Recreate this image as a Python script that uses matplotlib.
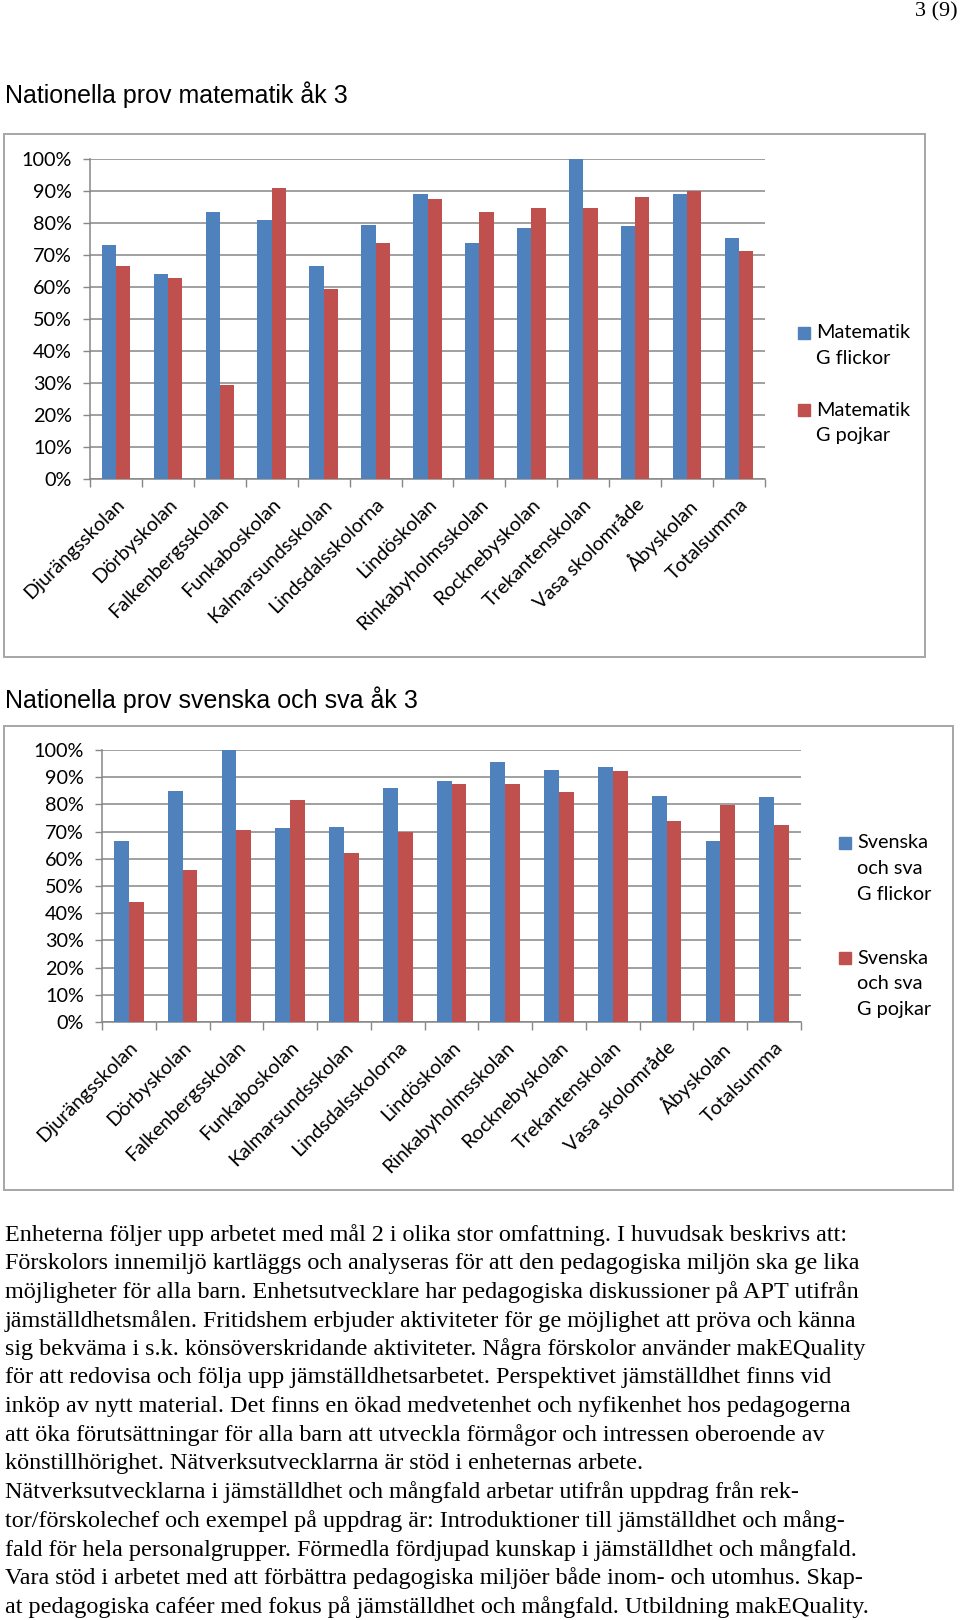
import matplotlib.pyplot as plt
from matplotlib.patches import Rectangle
import numpy as np

W, H = 960, 1620

schools = ["Djurängsskolan", "Dörbyskolan", "Falkenbergsskolan", "Funkaboskolan",
           "Kalmarsundsskolan", "Lindsdalsskolorna", "Lindöskolan", "Rinkabyholmsskolan",
           "Rocknebyskolan", "Trekantenskolan", "Vasa skolområde", "Åbyskolan", "Totalsumma"]

mat_flickor = [73.2, 64.2, 83.3, 80.9, 66.6, 79.5, 89.0, 73.8, 78.5, 100.0, 79.1, 89.0, 75.4]
mat_pojkar = [66.6, 62.9, 29.3, 90.8, 59.4, 73.6, 87.5, 83.3, 84.6, 84.6, 88.0, 90.1, 71.4]

sv_flickor = [66.5, 85.1, 100.0, 71.4, 71.7, 85.9, 88.7, 95.5, 92.7, 93.6, 83.1, 66.5, 82.6]
sv_pojkar = [44.3, 55.8, 70.5, 81.6, 62.1, 70.0, 87.4, 87.4, 84.6, 92.2, 73.8, 79.9, 72.6]

mat_labels = ["Matematik\nG flickor", "Matematik\nG pojkar"]
sv_labels = ["Svenska\noch sva\nG flickor", "Svenska\noch sva\nG pojkar"]

title1 = "Nationella prov matematik åk 3"
title2 = "Nationella prov svenska och sva åk 3"

body = [
    "Enheterna följer upp arbetet med mål 2 i olika stor omfattning. I huvudsak beskrivs att:",
    "Förskolors innemiljö kartläggs och analyseras för att den pedagogiska miljön ska ge lika",
    "möjligheter för alla barn. Enhetsutvecklare har pedagogiska diskussioner på APT utifrån",
    "jämställdhetsmålen. Fritidshem erbjuder aktiviteter för ge möjlighet att pröva och känna",
    "sig bekväma i s.k. könsöverskridande aktiviteter. Några förskolor använder makEQuality",
    "för att redovisa och följa upp jämställdhetsarbetet. Perspektivet jämställdhet finns vid",
    "inköp av nytt material. Det finns en ökad medvetenhet och nyfikenhet hos pedagogerna",
    "att öka förutsättningar för alla barn att utveckla förmågor och intressen oberoende av",
    "könstillhörighet. Nätverksutvecklarrna är stöd i enheternas arbete.",
    "Nätverksutvecklarna i jämställdhet och mångfald arbetar utifrån uppdrag från rek-",
    "tor/förskolechef och exempel på uppdrag är: Introduktioner till jämställdhet och mång-",
    "fald för hela personalgrupper. Förmedla fördjupad kunskap i jämställdhet och mångfald.",
    "Vara stöd i arbetet med att förbättra pedagogiska miljöer både inom- och utomhus. Skap-",
    "at pedagogiska caféer med fokus på jämställdhet och mångfald. Utbildning makEQuality.",
]

BLUE = "#4F81BD"
RED = "#C0504D"
GRID = "#868686"
TICKFONT = "Lato"
TICKSIZE = 14.3

fig = plt.figure(figsize=(W / 100, H / 100), dpi=100)


def fx(x):
    return x / W


def fy(y):
    return 1 - y / H


def frame(x0, y0, x1, y1):
    fig.patches.append(Rectangle((fx(x0), fy(y1)), fx(x1 - x0), (y1 - y0) / H,
                                 transform=fig.transFigure, fill=False,
                                 edgecolor="#A6A6A6", lw=1.4))


def bar_chart(box, flickor, pojkar):
    x0, y0, x1, y1 = box
    ax = fig.add_axes([fx(x0), fy(y1), fx(x1 - x0), (y1 - y0) / H])
    n = len(schools)
    x = np.arange(n)
    w = 0.275
    ax.bar(x - w / 2, np.array(flickor) / 100, w, color=BLUE, zorder=3)
    ax.bar(x + w / 2, np.array(pojkar) / 100, w, color=RED, zorder=3)
    ax.set_xlim(-0.5, n - 0.5)
    ax.set_ylim(0, 1)
    ax.set_yticks(np.arange(0, 1.01, 0.1))
    ax.set_yticklabels([f"{int(round(v * 100))}%" for v in np.arange(0, 1.01, 0.1)],
                       fontsize=TICKSIZE, family=TICKFONT)
    ax.set_xticks(np.arange(-0.5, n, 1.0))
    ax.set_xticklabels([])
    ax.set_xticks(x, minor=True)
    ax.set_xticklabels(schools, minor=True, rotation=45, ha="right", va="top",
                       rotation_mode="anchor", fontsize=TICKSIZE, family=TICKFONT)
    ax.tick_params(axis="x", which="major", length=6, color=GRID, width=1)
    ax.tick_params(axis="x", which="minor", length=0, pad=12)
    ax.tick_params(axis="y", length=5, color=GRID, width=1, pad=8)
    ax.yaxis.grid(True, color=GRID, lw=1.1, zorder=0)
    ax.set_axisbelow(True)
    for s in ["top", "right"]:
        ax.spines[s].set_visible(False)
    for s in ["left", "bottom"]:
        ax.spines[s].set_color(GRID)
        ax.spines[s].set_linewidth(1.1)
    return ax


def legend(x, ys, labels, colors):
    for y, lab, c in zip(ys, labels, colors):
        fig.patches.append(Rectangle((fx(x), fy(y + 6)), fx(12), 12 / H,
                                     transform=fig.transFigure, color=c))
        for k, part in enumerate(lab.split("\n")):
            fig.text(fx(x + 18), fy(y + k * 25.8), part, fontsize=TICKSIZE,
                     family=TICKFONT, va="center", ha="left")


fig.text(fx(958), fy(12), "3 (9)", fontsize=16, family="Liberation Serif",
         ha="right", va="center")

fig.text(fx(5), fy(95), title1, fontsize=18, family="Liberation Sans", va="center")
frame(4, 134, 925, 657)
bar_chart((90, 159, 765, 479), mat_flickor, mat_pojkar)
legend(798, [333, 410], mat_labels, [BLUE, RED])

fig.text(fx(5), fy(700), title2, fontsize=18, family="Liberation Sans", va="center")
frame(4, 726, 953, 1190)
bar_chart((102, 750, 801, 1022), sv_flickor, sv_pojkar)
legend(839, [843, 958], sv_labels, [BLUE, RED])

for i, line in enumerate(body):
    fig.text(fx(5), fy(1235 + i * 28.6), line, fontsize=17.4, family="Liberation Serif",
             va="center", ha="left")

fig.savefig("out.png", dpi=100)
